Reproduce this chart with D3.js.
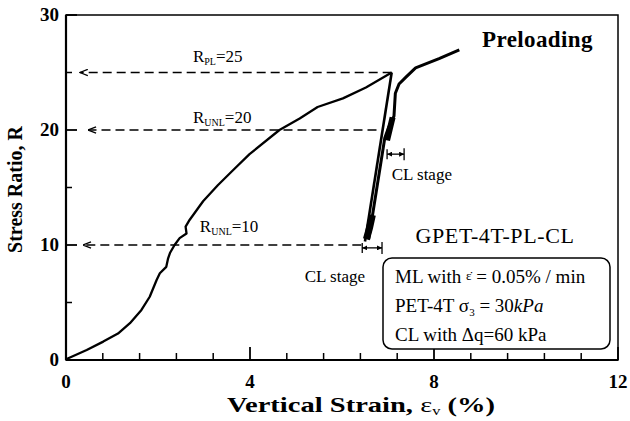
<!DOCTYPE html>
<html>
<head>
<meta charset="utf-8">
<script src="https://d3js.org/d3.v7.min.js"></script>
<style>
  body { margin: 0; background: #fff; }
  text { font-family: "Liberation Serif", "Times New Roman", serif; fill: #000; }
</style>
</head>
<body>
<svg id="chart" width="630" height="421"></svg>
<script>
// loading path up to the preload peak (strain %, stress ratio)
var loadStrain = [0, 0.05, 0.45, 0.81, 1.13, 1.39, 1.64, 1.82, 1.97, 2.04, 2.18, 2.22, 2.26, 2.36, 2.47, 2.62, 2.6, 2.69, 2.98, 3.3, 3.63, 3.99, 4.64, 5.08, 5.47, 6.02, 6.52, 7.08];
var loadR      = [0, 0.15, 0.87, 1.6, 2.3, 3.2, 4.35, 5.5, 6.96, 7.54, 8.1, 8.84, 9.3, 10.0, 10.6, 11.0, 11.6, 12.2, 13.8, 15.2, 16.5, 17.9, 20.0, 21.0, 22.0, 22.75, 23.7, 25.0];

// unloading from R=25 down to R=10
var unloadStrain = [7.08, 6.5];
var unloadR      = [25.0, 10.3];

// creep (CL) stages at R=10 and R=20
var creep10Strain = [6.53, 6.6, 6.66];
var creep10R      = [10.5, 11.5, 12.6];
var creep20Strain = [6.98, 7.04, 7.1];
var creep20R      = [19.1, 20.1, 21.1];

// reloading and continued loading
var reloadStrain = [6.58, 6.62, 6.93, 7.02, 7.13, 7.16, 7.24, 7.39, 7.6, 8.11, 8.55];
var reloadR      = [10.5, 11.5, 19.3, 20.3, 21.2, 23.2, 24.0, 24.6, 25.4, 26.2, 26.96];

// dashed reference levels: stress ratio, strain where the line starts, strain at the arrow tip
var levelR     = [25, 20, 10];
var levelFrom  = [7.08, 6.75, 6.42];
var levelTo    = [0.3, 0.48, 0.37];
var levelSub   = ["PL", "UNL", "UNL"];

// CL stage strain ranges
var clR     = [17.9, 9.75];
var clFrom  = [6.98, 6.44];
var clTo    = [7.35, 6.87];

var xMajor = [0, 4, 8, 12];
var yMajor = [0, 10, 20, 30];

var margin = {left: 66, top: 15, right: 12, bottom: 61};
var W = 630 - margin.left - margin.right;
var H = 421 - margin.top - margin.bottom;

var x = d3.scaleLinear().domain([0, 12]).range([0, W]);
var y = d3.scaleLinear().domain([0, 30]).range([H, 0]);

var svg = d3.select("#chart");
var defs = svg.append("defs");

defs.append("marker")
  .attr("id", "openArrow")
  .attr("viewBox", "0 0 10 10")
  .attr("refX", 10).attr("refY", 5)
  .attr("markerWidth", 9).attr("markerHeight", 8)
  .attr("markerUnits", "userSpaceOnUse")
  .attr("orient", "auto")
  .append("path")
  .attr("d", "M0,1 L10,5 L0,9")
  .attr("fill", "none").attr("stroke", "#000").attr("stroke-width", 1.6);

defs.append("marker")
  .attr("id", "smallArrow")
  .attr("viewBox", "0 0 10 10")
  .attr("refX", 10).attr("refY", 5)
  .attr("markerWidth", 5).attr("markerHeight", 5)
  .attr("markerUnits", "userSpaceOnUse")
  .attr("orient", "auto-start-reverse")
  .append("path")
  .attr("d", "M0,0 L10,5 L0,10 Z")
  .attr("fill", "#000");

var g = svg.append("g").attr("transform", "translate(" + margin.left + "," + margin.top + ")");

// frame
g.append("rect")
  .attr("x", 0).attr("y", 0).attr("width", W).attr("height", H)
  .attr("fill", "none").attr("stroke", "#000").attr("stroke-width", 1.5);
g.append("line").attr("x1", 0).attr("x2", 0).attr("y1", 0).attr("y2", H).attr("stroke", "#000").attr("stroke-width", 2.2);
g.append("line").attr("x1", 0).attr("x2", W).attr("y1", H).attr("y2", H).attr("stroke", "#000").attr("stroke-width", 2.2);

// x ticks, pointing inward
var xMinor = d3.range(0, 12.01, 0.8).filter(function(v) { return xMajor.indexOf(+v.toFixed(1)) < 0; });
g.selectAll(".xminor").data(xMinor).enter().append("line")
  .attr("x1", function(d) { return x(d); }).attr("x2", function(d) { return x(d); })
  .attr("y1", H).attr("y2", H - 7)
  .attr("stroke", "#000").attr("stroke-width", 1.5);
g.selectAll(".xmajor").data(xMajor).enter().append("line")
  .attr("x1", function(d) { return x(d); }).attr("x2", function(d) { return x(d); })
  .attr("y1", H).attr("y2", H - 13)
  .attr("stroke", "#000").attr("stroke-width", 1.8);
g.selectAll(".xlab").data(xMajor).enter().append("text")
  .attr("x", function(d) { return x(d); }).attr("y", H + 28)
  .attr("text-anchor", "middle").attr("font-weight", "bold").attr("font-size", 19)
  .text(function(d) { return d; });

// y ticks
var yMinor = [5, 15, 25];
g.selectAll(".yminor").data(yMinor).enter().append("line")
  .attr("x1", 0).attr("x2", 6)
  .attr("y1", function(d) { return y(d); }).attr("y2", function(d) { return y(d); })
  .attr("stroke", "#000").attr("stroke-width", 1.5);
g.selectAll(".ymajor").data(yMajor).enter().append("line")
  .attr("x1", 0).attr("x2", 11)
  .attr("y1", function(d) { return y(d); }).attr("y2", function(d) { return y(d); })
  .attr("stroke", "#000").attr("stroke-width", 1.8);
g.selectAll(".ylab").data(yMajor).enter().append("text")
  .attr("x", -7).attr("y", function(d) { return y(d) + 6; })
  .attr("text-anchor", "end").attr("font-weight", "bold").attr("font-size", 19)
  .text(function(d) { return d; });

// axis titles
var xt = g.append("text")
  .attr("x", 161).attr("y", H + 52)
  .attr("font-weight", "bold").attr("font-size", 21)
  .attr("textLength", 268).attr("lengthAdjust", "spacingAndGlyphs");
xt.append("tspan").text("Vertical Strain, ");
xt.append("tspan").attr("font-weight", "normal").text("ε");
xt.append("tspan").attr("font-weight", "normal").attr("font-size", 12).attr("dy", 3).text("v");
xt.append("tspan").attr("dy", -3).text(" (%)");

g.append("text")
  .attr("transform", "translate(-44," + (H / 2 + 2) + ") rotate(-90)")
  .attr("text-anchor", "middle").attr("font-weight", "bold").attr("font-size", 20)
  .text("Stress Ratio, R");

// dashed reference lines with arrows
var levels = levelR.map(function(r, i) { return {r: r, from: levelFrom[i], to: levelTo[i], sub: levelSub[i]}; });
g.selectAll(".level").data(levels).enter().append("line")
  .attr("x1", function(d) { return x(d.from); }).attr("x2", function(d) { return x(d.to); })
  .attr("y1", function(d) { return y(d.r); }).attr("y2", function(d) { return y(d.r); })
  .attr("stroke", "#000").attr("stroke-width", 1.6)
  .attr("stroke-dasharray", "9,5")
  .attr("marker-end", "url(#openArrow)");

var labelX = [2.76, 2.76, 2.91];
var labelR = [25.9, 20.6, 11.1];
levels.forEach(function(d, i) {
  var t = g.append("text")
    .attr("x", x(labelX[i])).attr("y", y(labelR[i]))
    .attr("font-size", 17);
  t.append("tspan").text("R");
  t.append("tspan").attr("font-size", 10).attr("dy", 3).text(d.sub);
  t.append("tspan").attr("dy", -3).text("=" + d.r);
});

// curves
var line = d3.line()
  .x(function(d) { return x(d[0]); })
  .y(function(d) { return y(d[1]); });

function zip(a, b) { return a.map(function(v, i) { return [v, b[i]]; }); }

g.append("path").datum(zip(loadStrain, loadR))
  .attr("d", line).attr("fill", "none").attr("stroke", "#000")
  .attr("stroke-width", 2.3).attr("stroke-linejoin", "round");
g.append("path").datum(zip(unloadStrain, unloadR))
  .attr("d", line).attr("fill", "none").attr("stroke", "#000")
  .attr("stroke-width", 2.6);
g.append("path").datum(zip(reloadStrain, reloadR))
  .attr("d", line).attr("fill", "none").attr("stroke", "#000")
  .attr("stroke-width", 3).attr("stroke-linejoin", "round");
g.append("path").datum(zip(creep10Strain, creep10R))
  .attr("d", line).attr("fill", "none").attr("stroke", "#000")
  .attr("stroke-width", 7);
g.append("path").datum(zip(creep20Strain, creep20R))
  .attr("d", line).attr("fill", "none").attr("stroke", "#000")
  .attr("stroke-width", 6);

// CL stage markers
var cls = clR.map(function(r, i) { return {r: r, from: clFrom[i], to: clTo[i]}; });
g.selectAll(".cl").data(cls).enter().append("line")
  .attr("x1", function(d) { return x(d.from); }).attr("x2", function(d) { return x(d.to); })
  .attr("y1", function(d) { return y(d.r); }).attr("y2", function(d) { return y(d.r); })
  .attr("stroke", "#000").attr("stroke-width", 1.3)
  .attr("marker-start", "url(#smallArrow)").attr("marker-end", "url(#smallArrow)");
g.selectAll(".clbarL").data(cls).enter().append("line")
  .attr("x1", function(d) { return x(d.from); }).attr("x2", function(d) { return x(d.from); })
  .attr("y1", function(d) { return y(d.r) - 5; }).attr("y2", function(d) { return y(d.r) + 5; })
  .attr("stroke", "#000").attr("stroke-width", 1.3);
g.selectAll(".clbarR").data(cls).enter().append("line")
  .attr("x1", function(d) { return x(d.to); }).attr("x2", function(d) { return x(d.to); })
  .attr("y1", function(d) { return y(d.r) - 6; }).attr("y2", function(d) { return y(d.r) + 6; })
  .attr("stroke", "#000").attr("stroke-width", 1.3);

g.append("text").attr("x", x(7.08)).attr("y", y(15.65)).attr("font-size", 17).text("CL stage");
g.append("text").attr("x", x(5.19)).attr("y", y(6.8)).attr("font-size", 17).text("CL stage");

// titles and info box
g.append("text").attr("x", 416).attr("y", 32)
  .attr("font-size", 23).attr("font-weight", "bold").attr("letter-spacing", 0.4).text("Preloading");
g.append("text").attr("x", 429).attr("y", 228)
  .attr("text-anchor", "middle").attr("font-size", 22).attr("letter-spacing", 0.6).text("GPET-4T-PL-CL");

g.append("rect")
  .attr("x", 317).attr("y", 243).attr("width", 227).attr("height", 91)
  .attr("rx", 9).attr("fill", "#fff").attr("stroke", "#000").attr("stroke-width", 1.5);

var l1 = g.append("text").attr("x", 329).attr("y", 268).attr("font-size", 19);
l1.append("tspan").text("ML with ");
l1.append("tspan").attr("font-size", 13).attr("dy", -3).text("ε̇");
l1.append("tspan").attr("dy", 3).text(" = 0.05% / min");

var l2 = g.append("text").attr("x", 329).attr("y", 297).attr("font-size", 19);
l2.append("tspan").text("PET-4T  σ");
l2.append("tspan").attr("font-size", 11).attr("dy", 4).text("3");
l2.append("tspan").attr("dy", -4).text(" = 30");
l2.append("tspan").attr("font-style", "italic").text("kPa");

g.append("text").attr("x", 329).attr("y", 326).attr("font-size", 19).text("CL with Δq=60 kPa");
</script>
</body>
</html>
